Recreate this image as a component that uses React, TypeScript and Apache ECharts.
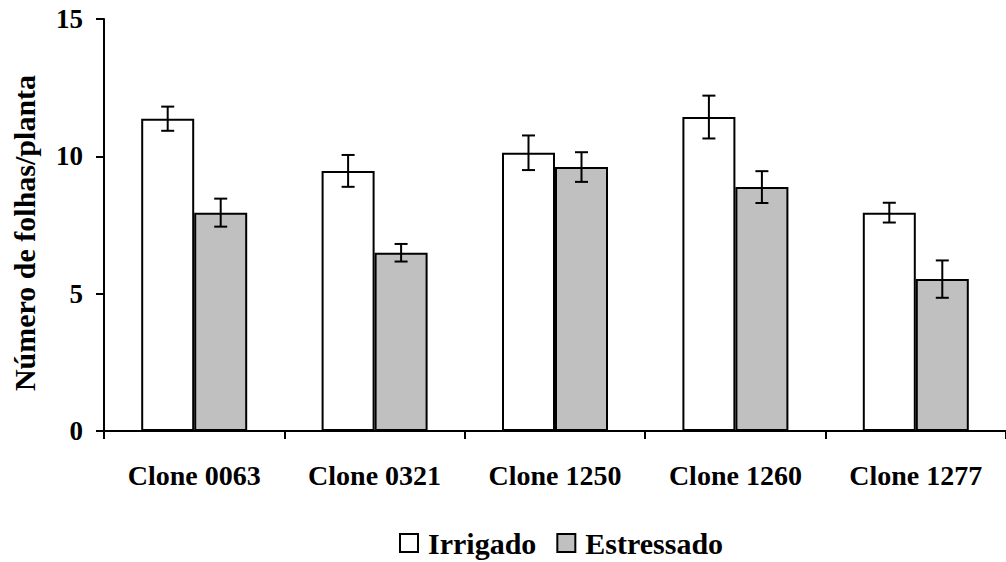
import React, { useEffect, useRef } from "react";
import * as echarts from "echarts";

const categories = ["Clone 0063", "Clone 0321", "Clone 1250", "Clone 1260", "Clone 1277"];
const irrigado = [11.37, 9.47, 10.13, 11.43, 7.95];
const irrigadoErr = [0.44, 0.58, 0.63, 0.78, 0.36];
const estressado = [7.95, 6.49, 9.61, 8.88, 5.53];
const estressadoErr = [0.51, 0.32, 0.54, 0.58, 0.68];
const yTicks = [0, 5, 10, 15];

const FONT = "'Liberation Serif', 'Times New Roman', serif";
const BAR_W = 53;

function errorSeries(name: string, vals: number[], errs: number[], offset: number) {
  return {
    type: "custom",
    name: name + "_err",
    data: vals.map((v, i) => [i, v, errs[i]]),
    z: 10,
    silent: true,
    renderItem: (params: any, api: any) => {
      const i = api.value(0);
      const v = api.value(1);
      const e = api.value(2);
      const top = api.coord([i, v + e]);
      const bot = api.coord([i, v - e]);
      const x = top[0] + offset;
      const cap = 6.5;
      const style = { stroke: "#000", lineWidth: 2 };
      return {
        type: "group",
        children: [
          { type: "line", shape: { x1: x, y1: top[1], x2: x, y2: bot[1] }, style },
          { type: "line", shape: { x1: x - cap, y1: top[1], x2: x + cap, y2: top[1] }, style },
          { type: "line", shape: { x1: x - cap, y1: bot[1], x2: x + cap, y2: bot[1] }, style },
        ],
      };
    },
  };
}

export default function App() {
  const ref = useRef<HTMLDivElement>(null);
  useEffect(() => {
    if (!ref.current) return;
    const chart = echarts.init(ref.current, undefined, { renderer: "svg" });
    chart.setOption({
      animation: false,
      backgroundColor: "#fff",
      textStyle: { fontFamily: FONT },
      grid: { left: 104, top: 19, width: 909, height: 412 },
      legend: {
        data: ["Irrigado", "Estressado"],
        left: 399,
        top: 528,
        padding: 0,
        icon: "rect",
        itemWidth: 18,
        itemHeight: 18,
        itemGap: 20,
        textStyle: { fontFamily: FONT, fontSize: 30, fontWeight: "bold", color: "#000", padding: [0, 0, 0, 5] },
      },
      xAxis: {
        type: "category",
        data: categories,
        axisLine: { lineStyle: { color: "#000", width: 2 } },
        axisTick: { show: true, length: 8, lineStyle: { color: "#000", width: 2 } },
        axisLabel: { fontFamily: FONT, fontSize: 28, fontWeight: "bold", color: "#000", margin: 30 },
      },
      yAxis: {
        type: "value",
        min: 0,
        max: 15,
        interval: 5,
        name: "Número de folhas/planta",
        nameLocation: "middle",
        nameGap: 65,
        nameTextStyle: {
          fontFamily: FONT,
          fontSize: 30,
          fontWeight: "bold",
          color: "#000",
          padding: [0, 16, 0, 0],
        },
        splitLine: { show: false },
        axisLine: { show: true, lineStyle: { color: "#000", width: 2 } },
        axisTick: { show: true, length: 8, lineStyle: { color: "#000", width: 2 } },
        axisLabel: {
          fontFamily: FONT,
          fontSize: 27,
          fontWeight: "bold",
          color: "#000",
          margin: 21,
          formatter: (v: number) => (yTicks.includes(v) ? String(v) : ""),
        },
      },
      series: [
        {
          type: "bar",
          name: "Irrigado",
          data: irrigado,
          barWidth: BAR_W,
          barGap: "0%",
          itemStyle: { color: "#ffffff", borderColor: "#000", borderWidth: 2 },
        },
        {
          type: "bar",
          name: "Estressado",
          data: estressado,
          barWidth: BAR_W,
          barGap: "0%",
          itemStyle: { color: "#c0c0c0", borderColor: "#000", borderWidth: 2 },
        },
        errorSeries("Irrigado", irrigado, irrigadoErr, -BAR_W / 2),
        errorSeries("Estressado", estressado, estressadoErr, BAR_W / 2),
      ],
    });
    return () => chart.dispose();
  }, []);
  return (
    <div
      ref={ref}
      style={{ position: "fixed", left: 0, top: 0, width: 1006, height: 562, background: "#fff" }}
    />
  );
}
